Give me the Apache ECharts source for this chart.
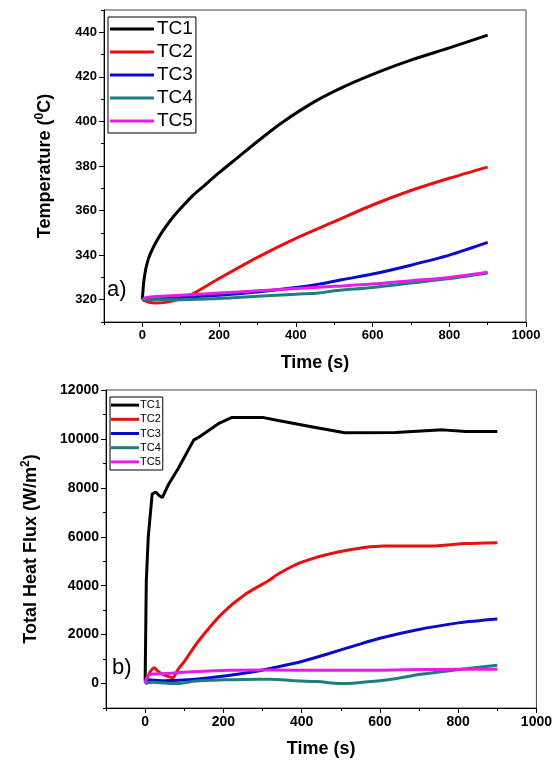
<!DOCTYPE html>
<html><head><meta charset="utf-8">
<script src="https://cdn.jsdelivr.net/npm/echarts@6/dist/echarts.min.js"></script>
<style>html,body{margin:0;padding:0;background:#fff}#c{width:555px;height:767px}</style>
</head><body><div id="c"></div>
<script>
// ---- data ----
const seriesNames = ['TC1','TC2','TC3','TC4','TC5'];
const timeTicks = [0,200,400,600,800,1000];
const tempTicks = [320,340,360,380,400,420,440];
const fluxTicks = [0,2000,4000,6000,8000,10000,12000];

const tempTC1 = [[0,320],[5,330],[15,338],[30,344],[50,350],[75,356],[100,361],[130,366.5],[160,371],[200,377],[250,384],[300,391],[360,399],[450,409],[530,416],[620,422.5],[700,427.5],[800,433],[900,438.7]];
const tempTC2 = [[0,320],[15,319],[35,318.5],[60,318.8],[90,320],[130,322.5],[200,329.5],[300,339],[400,347.5],[500,355],[600,362.5],[700,369],[800,374.5],[900,379.5]];
const tempTC3 = [[0,320],[50,320.5],[100,321],[200,322],[300,323.5],[400,325.5],[460,327],[520,329],[600,331.5],[700,335.5],[800,340],[900,345.7]];
const tempTC4 = [[0,320],[100,320],[200,320.5],[300,321.5],[400,322.5],[460,323],[500,324],[600,325.5],[700,327.5],[800,329.5],[900,332]];
const tempTC5 = [[0,320],[10,321],[100,322],[200,323],[300,324],[400,325],[500,326],[600,327],[700,328.5],[800,330],[900,332.3]];

const fluxTC1 = [[0,100],[3,4200],[8,6000],[18,7750],[27,7830],[35,7700],[44,7600],[60,8150],[85,8800],[124,9950],[140,10100],[190,10650],[222,10880],[300,10880],[340,10750],[425,10500],[510,10250],[640,10260],[760,10370],[820,10300],[900,10300]];
const fluxTC2 = [[0,30],[10,400],[23,650],[32,520],[45,380],[60,280],[70,240],[85,600],[100,900],[137,1750],[196,2850],[256,3650],[315,4200],[340,4480],[400,4960],[490,5370],[610,5620],[730,5620],[815,5720],[900,5760]];
const fluxTC3 = [[0,0],[10,150],[27,130],[50,110],[86,130],[160,230],[213,330],[289,510],[320,620],[400,900],[470,1230],[530,1520],[600,1850],[690,2180],[800,2480],[900,2640]];
const fluxTC4 = [[0,0],[20,50],[50,20],[80,0],[130,100],[200,150],[256,170],[320,180],[383,110],[440,80],[500,0],[530,10],[577,80],[640,200],[704,380],[797,560],[900,750]];
const fluxTC5 = [[0,0],[5,250],[15,380],[44,400],[80,440],[120,480],[213,540],[300,550],[467,545],[600,545],[700,570],[800,580],[900,580]];

// ---- styles ----
const colors = ['#000000','#e8100e','#0a0acc','#1d7f7c','#e61de6'];
const FONT = 'Arial, "Liberation Sans", sans-serif';

function mainAxis(kind, gi, min, max, interval, ticks, fs, name, gap, nameRich) {
  return {
    type: 'value', gridIndex: gi, min: min, max: max, interval: interval,
    position: kind === 'x' ? 'bottom' : 'left',
    axisLine: {show: true, onZero: false, lineStyle: {color: '#000', width: 1}},
    axisTick: {show: true, length: 5, customValues: ticks, lineStyle: {color: '#000', width: 1}},
    axisLabel: {customValues: ticks, formatter: v => String(v), fontSize: fs, fontWeight: 'bold', color: '#000', fontFamily: FONT, margin: 7},
    splitLine: {show: false},
    name: name, nameLocation: 'middle', nameGap: gap,
    nameRotate: kind === 'x' ? 0 : 90,
    nameTextStyle: {rich: nameRich, fontFamily: FONT}
  };
}
function minorAxis(kind, gi, min, max, interval) {
  return {
    type: 'value', gridIndex: gi, min: min, max: max, interval: interval,
    position: kind === 'x' ? 'bottom' : 'left',
    axisLine: {show: false, onZero: false},
    axisTick: {show: true, length: 3, lineStyle: {color: '#000', width: 1}},
    axisLabel: {show: false}, splitLine: {show: false}
  };
}
const titleRich = {
  a: {fontSize: 18, fontWeight: 'bold', fontFamily: FONT, color: '#000', lineHeight: 22},
  s: {fontSize: 12, fontWeight: 'bold', fontFamily: FONT, color: '#000', lineHeight: 12, verticalAlign: 'top'}
};

const tempData = [tempTC1, tempTC2, tempTC3, tempTC4, tempTC5];
const fluxData = [fluxTC1, fluxTC2, fluxTC3, fluxTC4, fluxTC5];

const series = [];
seriesNames.forEach((n, i) => {
  series.push({name: n, type: 'line', xAxisIndex: 0, yAxisIndex: 0, data: tempData[i], showSymbol: false,
    smooth: 0.3, lineStyle: {color: colors[i], width: 3}, itemStyle: {color: colors[i]}, z: 2 + i});
});
seriesNames.forEach((n, i) => {
  series.push({name: n, type: 'line', xAxisIndex: 1, yAxisIndex: 1, data: fluxData[i], showSymbol: false,
    smooth: i === 0 ? false : 0.3, lineStyle: {color: colors[i], width: 3}, itemStyle: {color: colors[i]}, z: 2 + i});
});

const option = {
  animation: false,
  backgroundColor: '#fff',
  grid: [
    {left: 104, right: 29, top: 10, height: 312, show: true, borderColor: '#444', borderWidth: 1, backgroundColor: 'transparent'},
    {left: 106, right: 15, top: 390, height: 318, show: true, borderColor: '#444', borderWidth: 1, backgroundColor: 'transparent'}
  ],
  xAxis: [
    mainAxis('x', 0, -100, 1000, 100, timeTicks, 13, '{a|Time (s)}', 30, titleRich),
    mainAxis('x', 1, -100, 1000, 100, timeTicks, 14, '{a|Time (s)}', 30, titleRich),
    minorAxis('x', 0, -100, 1000, 100),
    minorAxis('x', 1, -100, 1000, 100)
  ],
  yAxis: [
    mainAxis('y', 0, 310, 450, 10, tempTicks, 13, '{a|Temperature (}{s|0}{a|C)}', 48, titleRich),
    mainAxis('y', 1, -1000, 12000, 1000, fluxTicks, 14, '{a|Total Heat Flux (W/m}{s|2}{a|)}', 64, titleRich),
    minorAxis('y', 0, 310, 450, 10),
    minorAxis('y', 1, -1000, 12000, 1000)
  ],
  legend: [
    {data: seriesNames, orient: 'vertical', left: 108, top: 17, icon: 'rect', itemWidth: 44, itemHeight: 3,
     itemGap: 3, padding: [2, 3, 2, 2], borderColor: '#000', borderWidth: 1, selectedMode: false,
     textStyle: {fontSize: 19, fontFamily: FONT, color: '#000', lineHeight: 20, padding: [0, 0, 0, -2]}},
    {data: seriesNames, orient: 'vertical', left: 110, top: 397, icon: 'rect', itemWidth: 28, itemHeight: 3,
     itemGap: 2, padding: [2, 2, 2, 1], borderColor: '#000', borderWidth: 1, selectedMode: false,
     textStyle: {fontSize: 11, fontFamily: FONT, color: '#000', lineHeight: 12.2, padding: [0, 0, 0, -4]}}
  ],
  graphic: [
    {type: 'text', left: 107, top: 279, style: {text: 'a)', fontSize: 22, fontFamily: FONT, fill: '#000'}},
    {type: 'text', left: 112, top: 657, style: {text: 'b)', fontSize: 22, fontFamily: FONT, fill: '#000'}}
  ],
  series: series
};
const chart = echarts.init(document.getElementById('c'), null, {renderer: 'canvas'});
chart.setOption(option);
</script>
</body></html>
